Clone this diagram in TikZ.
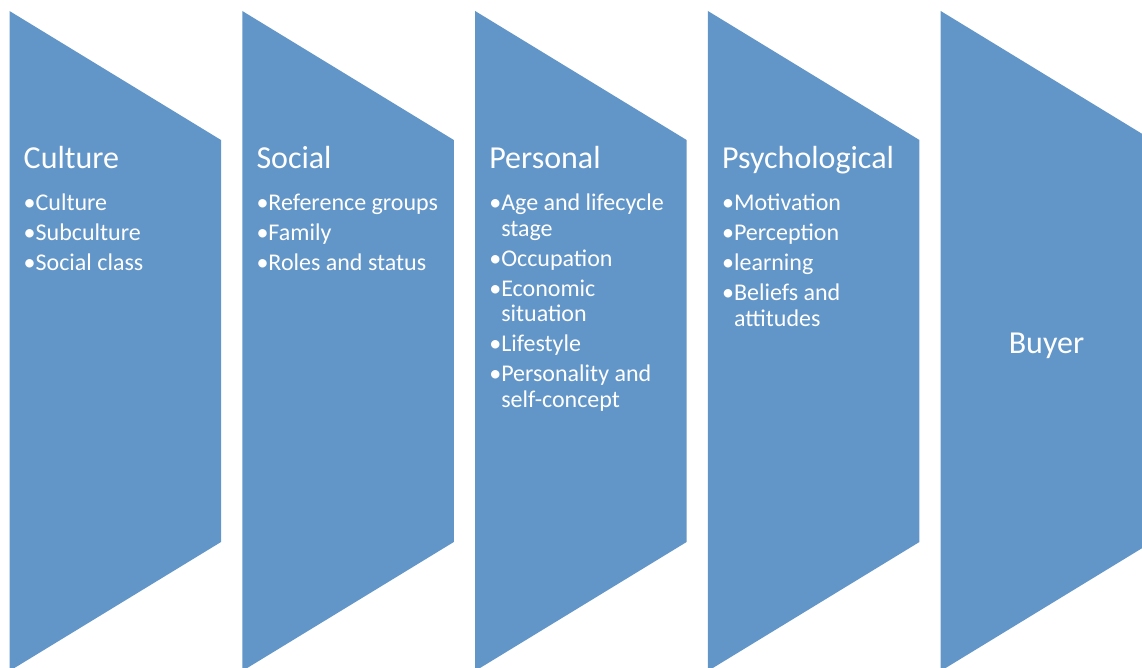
\documentclass[tikz,border=0pt]{standalone}
\usepackage{fontspec}
\setmainfont{Carlito}
\definecolor{shp}{HTML}{6296C8}
\newlength\bulw
\newcommand\bitem[1]{\par\hangindent=\bulw\hangafter=1\noindent\textbullet#1}
\newcommand\blist[1]{\parbox[t]{230pt}{\fontsize{24}{25.5}\selectfont\raggedright
  \setlength\parskip{4.5pt}\setlength\parindent{0pt}\settowidth\bulw{\textbullet}#1}}
\tikzset{
  ttl/.style={anchor=base west, inner sep=0pt, text=white, font=\fontsize{32}{38}\selectfont},
  itms/.style={anchor=base west, inner sep=0pt, text=white},
  chev/.style={fill=shp}
}
\begin{document}
\begin{tikzpicture}[x=1pt,y=-1pt]
\useasboundingbox (0,0) rectangle (1142,668);
\clip (0,0) rectangle (1142,668);
\foreach \i in {0,...,4}{
  \pgfmathsetmacro\L{9.5+232.8*\i}
  \fill[chev] (\L,11) -- (\L+211.5,140) -- (\L+211.5,542) -- (\L,671) -- cycle;
}
% Culture
\node[ttl] (t1) at (23.5,168.5) {Culture};
\node[itms] (l1) at (23.5,211) {\blist{\bitem{Culture}\bitem{Subculture}\bitem{Social class}}};
% Social
\node[ttl] (t2) at (256.3,168.5) {Social};
\node[itms] (l2) at (256.3,211) {\blist{\bitem{Reference groups}\bitem{Family}\bitem{Roles and status}}};
% Personal
\node[ttl] (t3) at (489.1,168.5) {Personal};
\node[itms] (l3) at (489.1,211) {\blist{\bitem{Age and lifecycle\newline stage}\bitem{Occupation}\bitem{Economic\newline situation}\bitem{Lifestyle}\bitem{Personality and\newline self-concept}}};
% Psychological
\node[ttl] (t4) at (721.9,168.5) {Psychological};
\node[itms] (l4) at (721.9,211) {\blist{\bitem{Motivation}\bitem{Perception}\bitem{learning}\bitem{Beliefs and\newline attitudes}}};
% Buyer
\node[anchor=base, inner sep=0pt, text=white, font=\fontsize{32}{38}\selectfont] (t5) at (1046.5,353) {Buyer};
\end{tikzpicture}
\end{document}
